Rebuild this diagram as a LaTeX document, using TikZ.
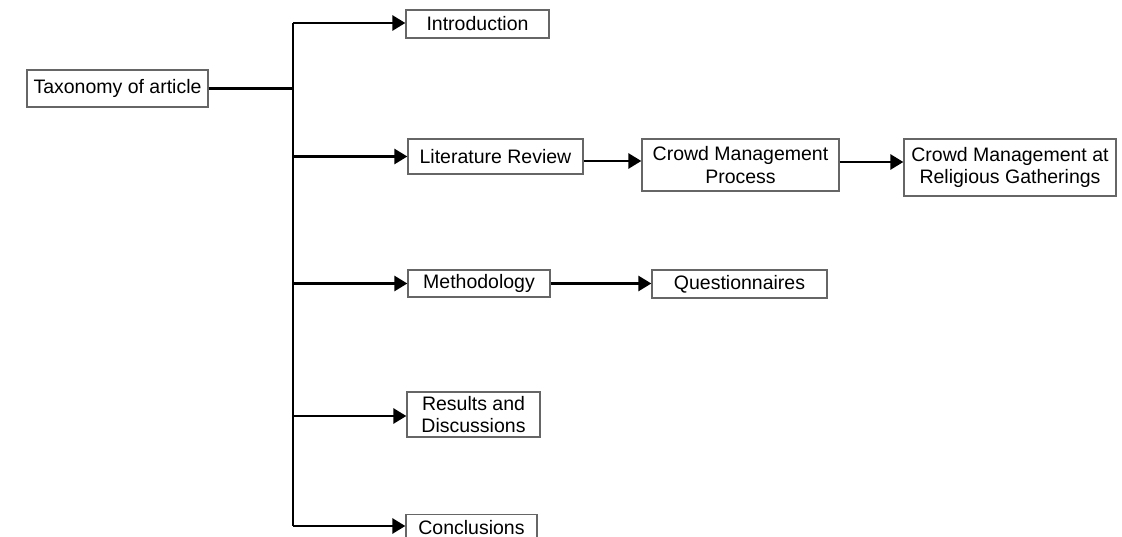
\documentclass[tikz,border=0pt]{standalone}
\usepackage{fontspec}
\setmainfont{Liberation Sans}
\usetikzlibrary{arrows.meta}
\begin{document}
\begin{tikzpicture}[x=1pt,y=-1pt,
  box/.style={draw=black!60,line width=1.3pt,inner sep=0pt,align=center,
    text=black,font=\fontsize{19.5}{22.5}\selectfont},
  conn/.style={line width=2.8pt,black},
  arr/.style={conn,-{Triangle[length=13pt,width=15pt]}}]
\useasboundingbox (0,0) rectangle (1122,537);
\node[box,minimum width=181pt,minimum height=37pt] (tax) at (117.5,88.5) {Taxonomy of article};
\node[box,minimum width=143pt,minimum height=28pt] (intro) at (477.5,24) {Introduction};
\node[box,minimum width=175pt,minimum height=35pt] (lit) at (495.5,156.5) {Literature Review};
\node[box,minimum width=197pt,minimum height=52pt] (cmp) at (740.5,165) {Crowd Management\\Process};
\node[box,minimum width=212pt,minimum height=57pt] (cmrg) at (1010,167.5) {Crowd Management at\\Religious Gatherings};
\node[box,minimum width=142pt,minimum height=27pt] (meth) at (479,283.5) {Methodology};
\node[box,minimum width=175pt,minimum height=28pt] (quest) at (739.5,284) {Questionnaires};
\node[box,minimum width=133pt,minimum height=45pt] (res) at (473.5,414.5) {Results and\\Discussions};
\node[box,minimum width=131pt,minimum height=26pt,anchor=north] (conc) at (471.5,514) {Conclusions};
\coordinate (ttop) at (293,23);
\coordinate (tbot) at (293,526);
\coordinate (tj) at (293,88.5);
\draw[conn] (ttop) -- (tbot);
\draw[conn] (tax.east) -- (tj);
\draw[arr] (ttop) -- (ttop -| intro.west);
\draw[arr] (lit.west -| ttop) -- (lit.west);
\draw[arr] (meth.west -| ttop) -- (meth.west);
\draw[arr] ([yshift=-1.5pt]res.west -| ttop) -- ([yshift=-1.5pt]res.west);
\draw[arr] (tbot) -- (tbot -| conc.west);
\draw[arr] ([yshift=-4.5pt]lit.east) -- ([yshift=-4.5pt]lit.east -| cmp.west);
\draw[arr] ([yshift=3pt]cmp.east) -- ([yshift=3pt]cmp.east -| cmrg.west);
\draw[arr] (meth.east) -- (meth.east -| quest.west);
\end{tikzpicture}
\end{document}
